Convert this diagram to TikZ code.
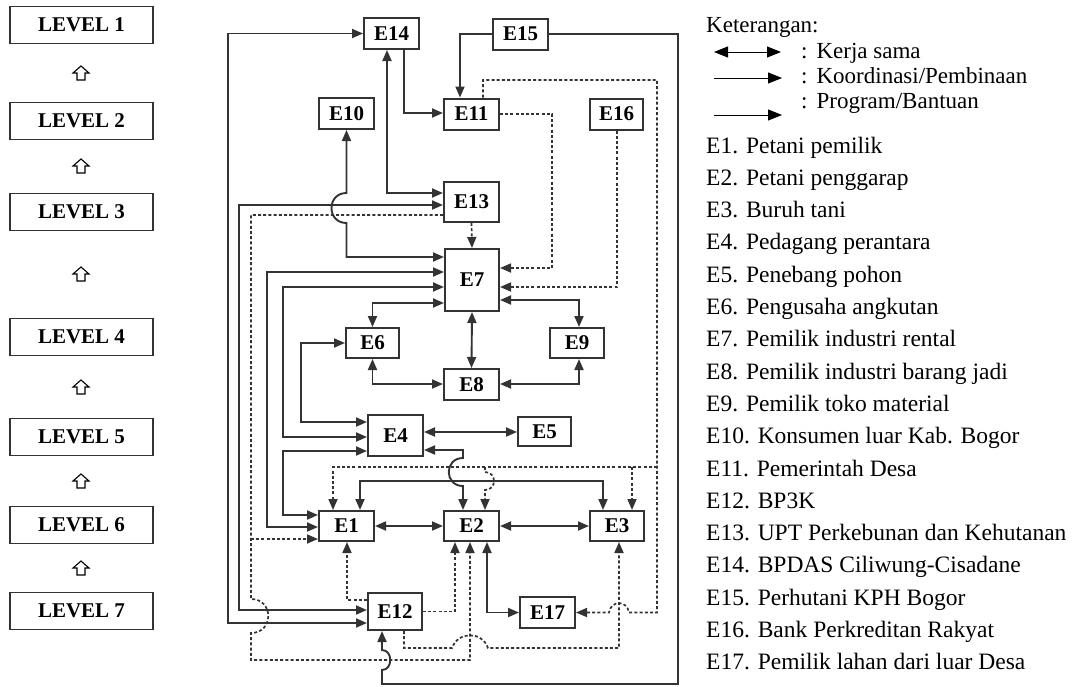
\documentclass[tikz,border=0pt]{standalone}
\usepackage{fontspec}
\setmainfont{Liberation Serif}
\usetikzlibrary{arrows.meta}
\newcommand{\efont}{\bfseries\fontsize{21}{21}\selectfont}
\newcommand{\lgfont}{\fontsize{23}{24}\selectfont}
\newcommand{\lifont}{\fontsize{23.5}{24}\selectfont}
\begin{document}
\begin{tikzpicture}[x=1pt,y=-1pt,
  ebox/.style={draw=black!80, line width=2pt, font=\efont, inner sep=0pt, minimum width=55pt, minimum height=31pt},
  lvl/.style={draw=black!80, line width=1.5pt, font=\efont, inner sep=0pt, minimum width=143pt, minimum height=37pt},
  ln/.style={draw=black!80, line width=1.9pt},
  dl/.style={ln, line width=1.7pt, dash pattern=on 3pt off 2.2pt},
  ar/.style={ln, -{Triangle[length=11pt,width=9pt]}},
  bi/.style={ln, {Triangle[length=11pt,width=9pt]}-{Triangle[length=11pt,width=9pt]}},
  dar/.style={dl, -{Triangle[length=11pt,width=9pt]}},
  uparrow/.style={draw=black, line width=1.1pt},
  lgline/.style={draw=black, line width=1pt},
  lgtext/.style={anchor=base west, font=\lgfont, inner sep=0pt},
  litext/.style={anchor=base west, font=\lifont, inner sep=0pt}
]
\useasboundingbox (0,0) rectangle (1078,686);

% ---------- levels ----------
\node[lvl] (L1) at (81.5,25) {LEVEL 1};
\node[lvl] (L2) at (81.5,121) {LEVEL 2};
\node[lvl] (L3) at (81.5,212) {LEVEL 3};
\node[lvl] (L4) at (81.5,337) {LEVEL 4};
\node[lvl] (L5) at (81.5,437) {LEVEL 5};
\node[lvl] (L6) at (81.5,525) {LEVEL 6};
\node[lvl] (L7) at (81.5,611) {LEVEL 7};
\foreach \yy in {73,166,274,387,481,568}{
  \draw[uparrow] (81,\yy-7) -- (89,\yy) -- (85,\yy) -- (85,\yy+7) -- (77,\yy+7) -- (77,\yy) -- (73,\yy) -- cycle;
}

% ---------- actor boxes ----------
\node[ebox] (E14) at (391.5,33.5) {E14};
\node[ebox] (E15) at (520.5,34) {E15};
\node[ebox] (E10) at (346.5,113.5) {E10};
\node[ebox] (E11) at (471.5,114) {E11};
\node[ebox, minimum width=53pt] (E16) at (616.5,114) {E16};
\node[ebox, minimum height=40pt] (E13) at (471.5,202) {E13};
\node[ebox, minimum width=54pt, minimum height=62pt] (E7) at (472,280) {E7};
\node[ebox, minimum width=53pt, minimum height=30pt] (E6) at (372.5,343) {E6};
\node[ebox, minimum width=54pt, minimum height=30pt] (E9) at (577,343) {E9};
\node[ebox] (E8) at (471.5,384.5) {E8};
\node[ebox, minimum height=41pt] (E4) at (395.5,435.5) {E4};
\node[ebox, minimum width=53pt, minimum height=29pt] (E5) at (544.5,431.5) {E5};
\node[ebox, minimum height=30pt] (E1) at (346.5,526) {E1};
\node[ebox, minimum height=30pt] (E2) at (471.5,526) {E2};
\node[ebox, minimum width=54pt, minimum height=30pt] (E3) at (617,526) {E3};
\node[ebox, minimum width=54pt, minimum height=37pt] (E12) at (395,611.5) {E12};
\node[ebox] (E17) at (547.5,612.5) {E17};

% ---------- branch points ----------
\coordinate (r467) at (657,467);
\coordinate (b632) at (632,467);
\coordinate (b485) at (485,467);
\coordinate (b251) at (251,539);

% ---------- solid connectors ----------
\draw[bi] (E12.west |- 0,623) -- (228,623) -- (228,33.5) -- (E14.west);
\draw[ar] (E14.south -| 404,0) -- (404,113) -- (E11.west |- 0,113);
\draw[bi] (E14.south -| 387,0) -- (387,193) -- (E13.west |- 0,193);
\draw[ar] (E15.west) -- (460,34) -- (E11.north -| 460,0);
\draw[ar] (E15.east) -- (678,34) -- (678,684) -- (382,684) -- (382,670)
   .. controls (393,670) and (393,650) .. (382,650) -- (E12.south -| 382,0);
\draw[bi] (E10.south) -- (346.5,193) .. controls (326.5,193) and (326.5,223) .. (346.5,223)
   -- (346.5,257) -- (E7.west |- 0,257);
\draw[bi] (E13.west |- 0,205) -- (239,205) -- (239,610) -- (E12.west |- 0,610);
\draw[bi] (E7.west |- 0,272) -- (267,272) -- (267,527) -- (E1.west |- 0,527);
\draw[bi] (E7.west |- 0,287) -- (283,287) -- (283,437) -- (E4.west |- 0,437);
\draw[bi] (E4.west |- 0,451) -- (283,451) -- (283,515) -- (E1.west |- 0,515);
\draw[bi] (E7.west |- 0,303) -- (372.5,303) -- (E6.north);
\draw[bi] (E6.west) -- (301,343) -- (301,422) -- (E4.west |- 0,422);
\draw[bi] (E6.south) -- (372.5,384) -- (E8.west |- 0,384);
\draw[bi] (E7.south) -- (E8.north);
\draw[bi] (E7.east |- 0,300) -- (579,300) -- (E9.north -| 579,0);
\draw[bi] (E8.east |- 0,384) -- (579,384) -- (E9.south -| 579,0);
\draw[bi] (E4.east |- 0,432) -- (E5.west |- 0,432);
\draw[bi] (E4.east |- 0,450) -- (463,450) -- (463,458)
   .. controls (444,458) and (444,486) .. (463,486) -- (E2.north -| 463,0);
\draw[bi] (E1.north -| 360,0) -- (360,481) -- (603,481) -- (E3.north -| 603,0);
\draw[bi] (E1.east) -- (E2.west);
\draw[bi] (E2.east) -- (E3.west);
\draw[bi] (E2.south -| 487,0) -- (487,612.5) -- (E17.west);

% ---------- dashed connectors ----------
\draw[dar] (E11.east) -- (552,114) -- (552,268) -- (E7.east |- 0,268);
\draw[dar] (E16.south -| 617,0) -- (617,287) -- (E7.east |- 0,287);
\draw[dar] (E13.south) -- (E7.north);
\draw[dar] (E11.north -| 483,0) -- (483,80) -- (657,80) -- (657,612.5) -- (629,612.5)
   .. controls (627,600) and (611,600) .. (609,612.5) -- (E17.east);
\draw[dar] (r467) -- (333,467) -- (E1.north -| 333,0);
\draw[dar] (b632) -- (E3.north -| 632,0);
\draw[dar] (b485) -- (485,472) .. controls (497,472) and (497,490) .. (485,490) -- (E2.north -| 485,0);
\draw[dar] (E13.west |- 0,215) -- (251,215) -- (251,599)
   .. controls (274,599) and (274,633) .. (251,633) -- (251,660) -- (470,660) -- (E2.south -| 470,0);
\draw[dar] (b251) -- (E1.west |- 0,539);
\draw[dar] (E12.west |- 0,600) -- (347,600) -- (E1.south -| 347,0);
\draw[dar] (E12.east) -- (455,611.5) -- (E2.south -| 455,0);
\draw[dar] (E12.south -| 404,0) -- (404,648) -- (452,648)
   .. controls (458,631) and (482,631) .. (488,648) -- (619,648) -- (E3.south -| 619,0);

% ---------- legend ----------
\node[lgtext] (ket) at (706,32) {Keterangan:};
\coordinate (k1a) at (714,52); \coordinate (k1b) at (781,52);
\coordinate (k2a) at (714,78); \coordinate (k2b) at (782,78);
\coordinate (k3a) at (714,115); \coordinate (k3b) at (782,115);
\draw[lgline, {Triangle[length=14pt,width=11pt]}-{Triangle[length=14pt,width=11pt]}] (k1a) -- (k1b);
\draw[lgline, -{Triangle[length=14pt,width=11pt]}] (k2a) -- (k2b);
\draw[lgline, -{Triangle[length=14pt,width=11pt]}] (k3a) -- (k3b);
\node[lgtext] (t1) at (801,58) {:\hspace{9pt}Kerja sama};
\node[lgtext] (t2) at (801,83) {:\hspace{9pt}Koordinasi/Pembinaan};
\node[lgtext] (t3) at (801,108) {:\hspace{9pt}Program/Bantuan};

\foreach \i/\t in {1/E1. Petani pemilik, 2/E2. Petani penggarap, 3/E3. Buruh tani,
  4/E4. Pedagang perantara, 5/E5. Penebang pohon, 6/E6. Pengusaha angkutan,
  7/E7. Pemilik industri rental, 8/E8. Pemilik industri barang jadi,
  9/E9. Pemilik toko material, 10/E10. Konsumen luar Kab. Bogor,
  11/E11. Pemerintah Desa, 12/E12. BP3K, 13/E13. UPT Perkebunan dan Kehutanan,
  14/E14. BPDAS Ciliwung-Cisadane, 15/E15. Perhutani KPH Bogor,
  16/E16. Bank Perkreditan Rakyat, 17/E17. Pemilik lahan dari luar Desa}{
  \node[litext] (li\i) at (706,{153+32.3*(\i-1)}) {\t};
}
\end{tikzpicture}
\end{document}
